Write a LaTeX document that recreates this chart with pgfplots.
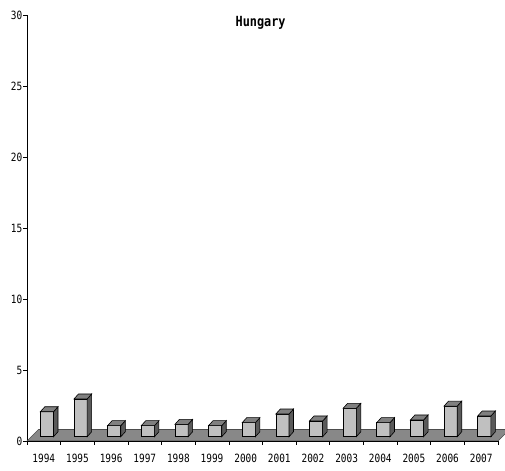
\documentclass[border=0pt]{standalone}
\usepackage{fontspec}
\usepackage{pgfplots}
\usepackage{pgfplotstable}
\pgfplotsset{compat=1.18}
\newfontfamily\chartfont[FakeStretch=0.83]{DejaVu Sans Mono}
\newfontfamily\titlefont[FakeStretch=0.85]{DejaVu Sans Mono Bold}
\definecolor{barfront}{HTML}{C0C0C0}
\definecolor{barside}{HTML}{5A5A5A}
\definecolor{bartop}{HTML}{808080}
\definecolor{floorc}{HTML}{888888}

\pgfplotstableread{
x v
0 2.06
1 2.96
2 1.08
3 1.08
4 1.17
5 1.08
6 1.29
7 1.90
8 1.41
9 2.30
10 1.29
11 1.48
12 2.46
13 1.76
}\datatable

\begin{document}
\begin{tikzpicture}[x=1bp,y=1bp]
\useasboundingbox (0,0) rectangle (505bp,471bp);
\begin{axis}[
  at={(27bp,30bp)}, anchor=south west,
  scale only axis, width=471bp, height=426bp,
  xmin=-0.5, xmax=13.5, ymin=0, ymax=30,
  clip=false,
  axis x line=bottom, axis y line=left,
  axis line style={-, line width=0.8pt},
  tick align=outside,
  major tick length=4pt,
  xtick={-0.5,0.5,...,13.5},
  x tick label as interval,
  xticklabels={1994,1995,1996,1997,1998,1999,2000,2001,2002,2003,2004,2005,2006,2007},
  ytick={0,5,10,15,20,25,30},
  tick style={black, line width=0.6pt},
  /pgf/number format/assume math mode=true,
  ticklabel style={font=\chartfont\fontsize{11.4}{12}\selectfont},
  yticklabel style={inner sep=0.5pt},
  xticklabel style={yshift=-6pt},
  title={\titlefont\fontsize{14}{15}\selectfont Hungary},
  title style={at={(0.496,1)}, anchor=north, yshift=-4pt},
]
% floor
\addplot[fill=floorc, draw=black!70, line width=0.6pt] coordinates {(-0.5,0) (13.5,0) (13.842,0.81) (-0.158,0.81)} --cycle;
\addplot[draw=black, line width=0.8pt] coordinates {(-0.5,0) (13.5,0)};
% bars
\pgfplotsinvokeforeach{0,...,13}{
  \pgfplotstablegetelem{#1}{v}\of\datatable
  \let\vv\pgfplotsretval
  \pgfmathsetmacro\xl{#1-0.104}
  \pgfmathsetmacro\xr{#1+0.288}
  \pgfmathsetmacro\xrd{#1+0.288+0.134}
  \pgfmathsetmacro\xld{#1-0.104+0.134}
  \pgfmathsetmacro\vd{\vv+0.352}
  \pgfmathsetmacro\bd{0.30+0.352}
  \edef\cmd{
    \noexpand\addplot[fill=barfront, draw=black, line width=0.6pt] coordinates {(\xl,0.30) (\xl,\vv) (\xr,\vv) (\xr,0.30)} --cycle;
    \noexpand\addplot[fill=barside, draw=black, line width=0.6pt] coordinates {(\xr,0.30) (\xr,\vv) (\xrd,\vd) (\xrd,\bd)} --cycle;
    \noexpand\addplot[fill=bartop, draw=black, line width=0.6pt] coordinates {(\xl,\vv) (\xld,\vd) (\xrd,\vd) (\xr,\vv)} --cycle;
  }
  \cmd
}
\end{axis}
\end{tikzpicture}
\end{document}
